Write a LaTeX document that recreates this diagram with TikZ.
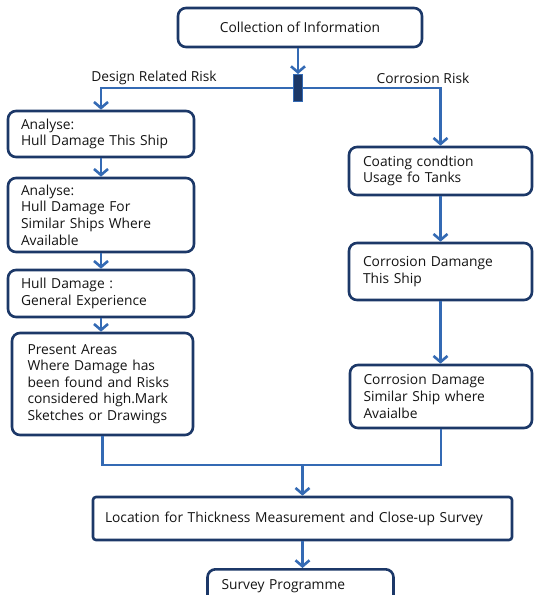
\documentclass[tikz,border=0pt]{standalone}
\usepackage{fontspec}
\setmainfont{Open Sans}
\usetikzlibrary{arrows.meta}
\definecolor{boxline}{RGB}{28,56,104}
\definecolor{flow}{RGB}{52,106,180}
\definecolor{txt}{RGB}{20,20,20}
\begin{document}
\begin{tikzpicture}[x=1pt,y=-1pt,
  font=\fontsize{13.8}{16.6}\selectfont,
  every node/.style={text=txt},
  stepbox/.style={draw=boxline, line width=2.6pt, rounded corners=8pt, fill=white,
    align=left, inner xsep=0pt, inner ysep=0pt},
  conn/.style={draw=flow, line width=2.6pt},
  tip/.style={-{Straight Barb[length=6pt,width=14pt]}}
]
\useasboundingbox (0,0) rectangle (534,595);
\clip (0,0) rectangle (534,595);

% boxes
\node[stepbox, minimum width=244pt, minimum height=39pt, align=center] (info) at (300,27.5) {Collection of Information};
\node[stepbox, minimum width=186pt, minimum height=46pt, text width=160pt] (L1) at (101,134) {Analyse:\\Hull Damage This Ship};
\node[stepbox, minimum width=186pt, minimum height=74pt, text width=160pt] (L2) at (101,215) {Analyse:\\Hull Damage For\\Similar Ships Where\\Available};
\node[stepbox, minimum width=186pt, minimum height=47pt, text width=160pt] (L3) at (101,293.5) {Hull Damage :\\General Experience};
\node[stepbox, minimum width=181pt, minimum height=102pt, text width=150pt] (L4) at (102.5,384) {Present Areas\\Where Damage has\\been found and Risks\\considered high.Mark\\Sketches or Drawings};
\node[stepbox, minimum width=183pt, minimum height=48pt, text width=155pt] (R1) at (440.5,171) {Coating condtion\\Usage fo Tanks};
\node[stepbox, minimum width=183pt, minimum height=57pt, text width=155pt] (R2) at (440.5,271.5) {Corrosion Damange\\This Ship};
\node[stepbox, minimum width=182pt, minimum height=63pt, text width=155pt] (R3) at (441,396.5) {Corrosion Damage\\Similar Ship where\\Avaialbe};
\node[stepbox, rounded corners=3pt, minimum width=419pt, minimum height=43pt, text width=395pt] (loc) at (302.5,518.5) {Location for Thickness Measurement and Close-up Survey};
% last box continues past the lower edge of the page
\node[stepbox, minimum width=186pt, text width=158pt, inner ysep=8pt, text height=12pt, text depth=30pt, anchor=north] (survey) at (300.5,568) {Survey Programme};

% branch labels
\node (dlabel) at (154,78) {Design Related Risk};
\node (clabel) at (423,78) {Corrosion Risk};

% junction bar
\coordinate (split) at (298,88);
\draw[conn, tip] (split) -| (L1.north);
\draw[conn, tip] (split) -| (R1.north);
\node[draw=flow, fill=boxline, line width=1pt, minimum width=9pt, minimum height=27pt, inner sep=0pt] (junction) at (split) {};
\draw[conn, tip] (info.south -| junction) -- (junction.north);

% left column
\draw[conn, tip] (L1.south) -- (L1.south |- L2.north);
\draw[conn, tip] (L2.south) -- (L2.south |- L3.north);
\draw[conn, tip] (L3.south) -- (L3.south |- L4.north);

% right column
\draw[conn, tip] (R1.south) -- (R1.south |- R2.north);
\draw[conn, tip] (R2.south) -- (R2.south |- R3.north);

% merge
\coordinate (merge) at (302.5,465);
\draw[conn] (L4.south) |- (merge);
\draw[conn] (R3.south) |- (merge);
\draw[conn, tip] (merge) -- (loc.north);
\draw[conn, tip] (loc.south) -- (loc.south |- survey.north);
\end{tikzpicture}
\end{document}
